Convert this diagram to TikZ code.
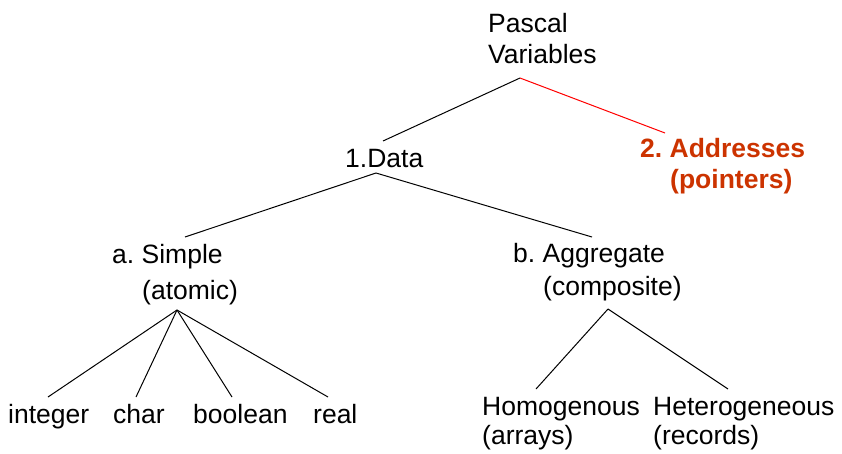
\documentclass[tikz,border=0pt]{standalone}
\usepackage{fontspec}
\setmainfont{Liberation Sans}
\usepackage{tikz}
\usetikzlibrary{positioning}
\definecolor{ptrred}{RGB}{204,51,0}
\definecolor{linkred}{RGB}{255,0,0}
\frenchspacing

\begin{document}
\begin{tikzpicture}[
  x=1pt, y=-1pt,
  lbl/.style={anchor=base west,inner sep=0pt,font=\fontsize{26.5}{31}\selectfont},
  ptr/.style={lbl,text=ptrred,font=\fontsize{26.5}{31}\selectfont\bfseries},
  edge/.style={line width=1pt,black},
  redge/.style={line width=1pt,linkred}
]
\useasboundingbox (0,0) rectangle (842,453);

% labels
\node[lbl] (pascal) at (488,32) {Pascal};
\node[lbl] (vars) at (488,63) {Variables};
\node[lbl] (data) at (345,167) {1.Data};
\node[ptr] (addr) at (640,157) {2. Addresses};
\node[ptr] (ptrs) at (670,188) {(pointers)};
\node[lbl] (simple) at (112,263) {a. Simple};
\node[lbl] (atomic) at (142,299) {(atomic)};
\node[lbl] (aggr) at (513,262) {b. Aggregate};
\node[lbl] (compos) at (543,295) {(composite)};
\node[lbl] (int) at (8,423) {integer};
\node[lbl] (chr) at (113,423) {char};
\node[lbl] (bool) at (193,423) {boolean};
\node[lbl] (real) at (313,423) {real};
\node[lbl] (homog) at (482,415) {Homogenous};
\node[lbl] (arrays) at (482,444) {(arrays)};
\node[lbl] (heter) at (653,415) {Heterogeneous};
\node[lbl] (records) at (653,444) {(records)};

% branch points
\coordinate (varsBot) at (520,78);
\coordinate (dataTop) at (383,141);
\coordinate (addrTop) at (665,133);
\coordinate (dataBot) at (376,173);
\coordinate (simpleTop) at (185,237);
\coordinate (aggrTop) at (592,237);
\coordinate (atomicBot) at (177,310);
\coordinate (composBot) at (608,309);
\coordinate (intTop) at (48,397);
\coordinate (chrTop) at (136,397);
\coordinate (boolTop) at (232,397);
\coordinate (realTop) at (328,397);
\coordinate (homogTop) at (536,389);
\coordinate (heterTop) at (728,389);

\draw[edge] (varsBot) -- (dataTop);
\draw[redge] (varsBot) -- (addrTop);
\draw[edge] (dataBot) -- (simpleTop);
\draw[edge] (dataBot) -- (aggrTop);
\foreach \c in {intTop,chrTop,boolTop,realTop}
  \draw[edge] (atomicBot) -- (\c);
\draw[edge] (composBot) -- (homogTop);
\draw[edge] (composBot) -- (heterTop);
\end{tikzpicture}
\end{document}
